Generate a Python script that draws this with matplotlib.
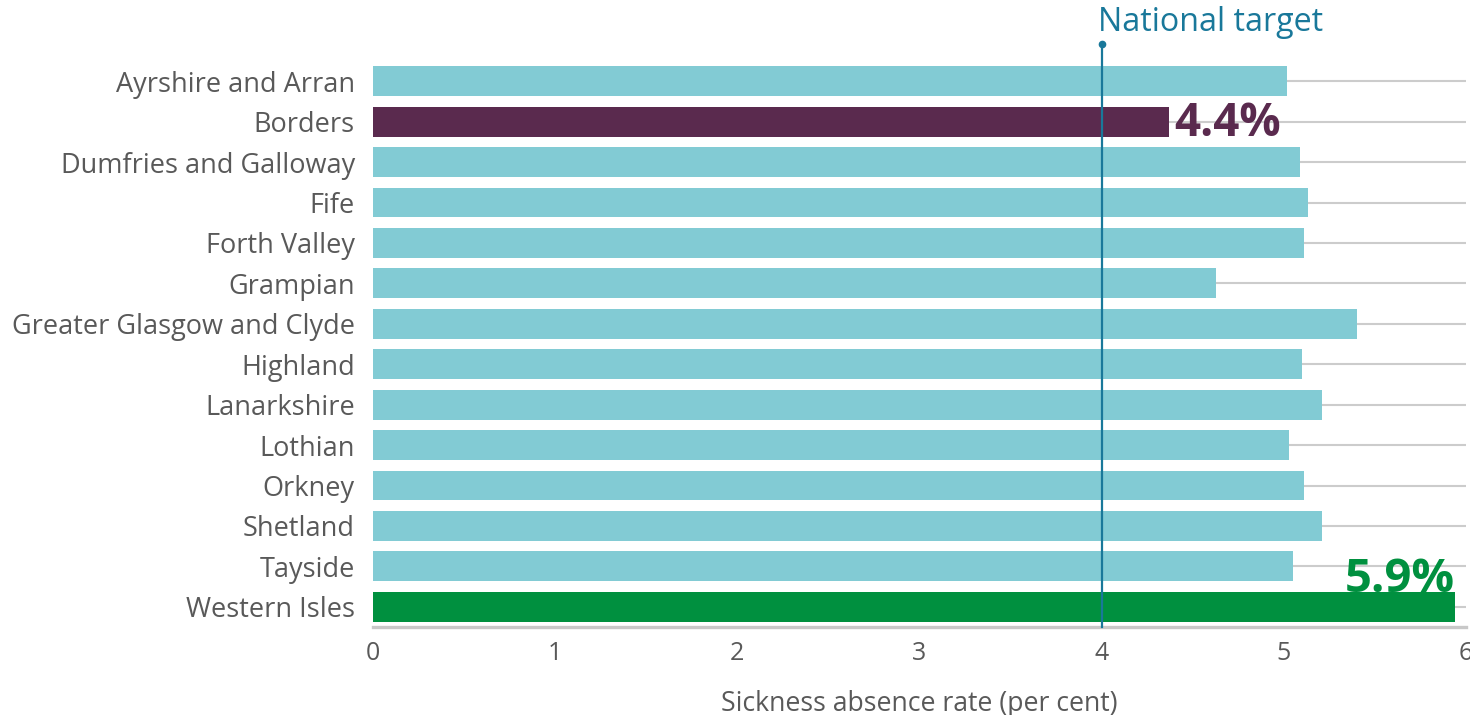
import matplotlib
matplotlib.use('Agg')
import matplotlib.pyplot as plt

# NHS board sickness absence rates (per cent)
boards = ['Ayrshire and Arran', 'Borders', 'Dumfries and Galloway', 'Fife',
          'Forth Valley', 'Grampian', 'Greater Glasgow and Clyde', 'Highland',
          'Lanarkshire', 'Lothian', 'Orkney', 'Shetland', 'Tayside',
          'Western Isles']
rates = [5.02, 4.37, 5.09, 5.13, 5.11, 4.63, 5.40, 5.10, 5.21, 5.03,
         5.11, 5.21, 5.05, 5.94]
target = 4.0
xticks = [0, 1, 2, 3, 4, 5, 6]
low_label = '4.4%'
high_label = '5.9%'

plt.rcParams['font.family'] = ['Open Sans', 'DejaVu Sans']

teal = '#82cbd4'
purple = '#5a2a4e'
green = '#00903f'
line_col = '#19789a'
text_col = '#595959'

colors = [teal] * len(boards)
colors[1] = purple
colors[-1] = green

fig = plt.figure(figsize=(14.7, 7.15), dpi=100)
ax = fig.add_axes([373 / 1470, 88 / 715, (1466 - 373) / 1470, (627 - 61) / 715])

ypos = list(range(len(boards)))

# gridlines at each category centre
for y in ypos:
    ax.axhline(y, color='#cccccc', lw=1.5, zorder=0)

ax.text(rates[-1], ypos[-1] - 0.36, high_label, ha='right', va='baseline',
        fontsize=34, fontweight='bold', color=green, zorder=1)

ax.barh(ypos, rates, height=0.74, color=colors, zorder=2)

ax.text(rates[1] + 0.03, ypos[1] + 0.05, low_label, ha='left', va='center',
        fontsize=33, fontweight='bold', color=purple, zorder=3)

# national target line
top = -0.92
ax.plot([target, target], [13.5, top], color=line_col, lw=1.6,
        clip_on=False, zorder=4)
ax.plot([target], [top], 'o', color=line_col, ms=4.5, clip_on=False, zorder=4)
ax.text(target - 0.02, top - 0.12, 'National target', ha='left',
        va='bottom', fontsize=23.2, color=line_col)

ax.set_xlim(0, 6)
ax.set_ylim(13.5, -0.5)
ax.set_xticks(xticks)
ax.set_yticks(ypos)
ax.set_yticklabels(boards)
ax.tick_params(axis='both', length=0, labelcolor=text_col)
ax.tick_params(axis='y', pad=13, labelsize=19.5)
ax.tick_params(axis='x', pad=10, labelsize=18)

for s in ['top', 'right', 'left']:
    ax.spines[s].set_visible(False)
ax.spines['bottom'].set_color('#c8c8c8')
ax.spines['bottom'].set_linewidth(2.4)

ax.set_xlabel('Sickness absence rate (per cent)', fontsize=19.2,
              color=text_col, labelpad=17)

plt.savefig('out.png', dpi=100)
plt.close()
